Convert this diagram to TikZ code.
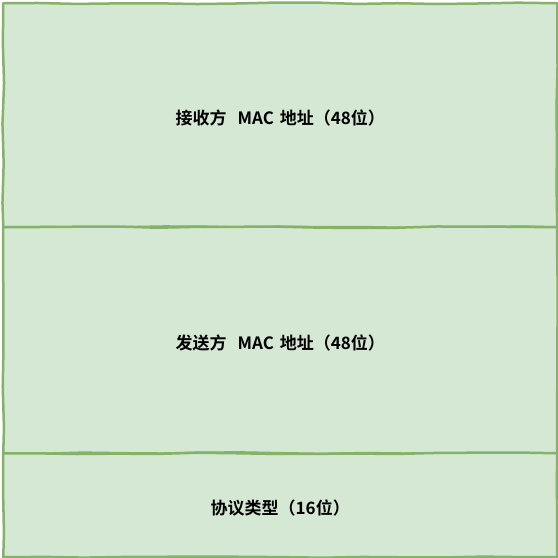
\documentclass[tikz,border=0pt]{standalone}
\usepackage{fontspec}
\usetikzlibrary{decorations.pathmorphing}
\newfontfamily\cjk{Noto Sans CJK SC Bold}
\definecolor{boxfill}{HTML}{D5E8D4}
\definecolor{boxline}{HTML}{82B366}
\begin{document}
\begin{tikzpicture}[x=1pt,y=-1pt,
  field/.style={draw=boxline,fill=boxfill,line width=2.5pt,line join=round,inner sep=0pt,
    decorate,decoration={random steps,segment length=40pt,amplitude=0.8pt},anchor=north west},
  fieldtext/.style={font=\cjk\fontsize{17}{20}\selectfont,text=black,inner sep=0pt,yshift=-2.5pt}]
\pgfmathsetseed{7}
\useasboundingbox (0,0) rectangle (558,558);
\node[field,minimum width=554pt,minimum height=224pt] (dst) at (2,2) {};
\node[field,minimum width=554pt,minimum height=226pt] (src) at (2,226) {};
\node[field,minimum width=554pt,minimum height=104pt] (typ) at (2,452) {};
\node[fieldtext] (dstt) at (dst.center) {接收方\hspace{11pt}MAC\hspace{6pt}地址（48位）};
\node[fieldtext] (srct) at (src.center) {发送方\hspace{11pt}MAC\hspace{6pt}地址（48位）};
\node[fieldtext] (typt) at (typ.center) {协议类型（16位）};
\end{tikzpicture}
\end{document}
